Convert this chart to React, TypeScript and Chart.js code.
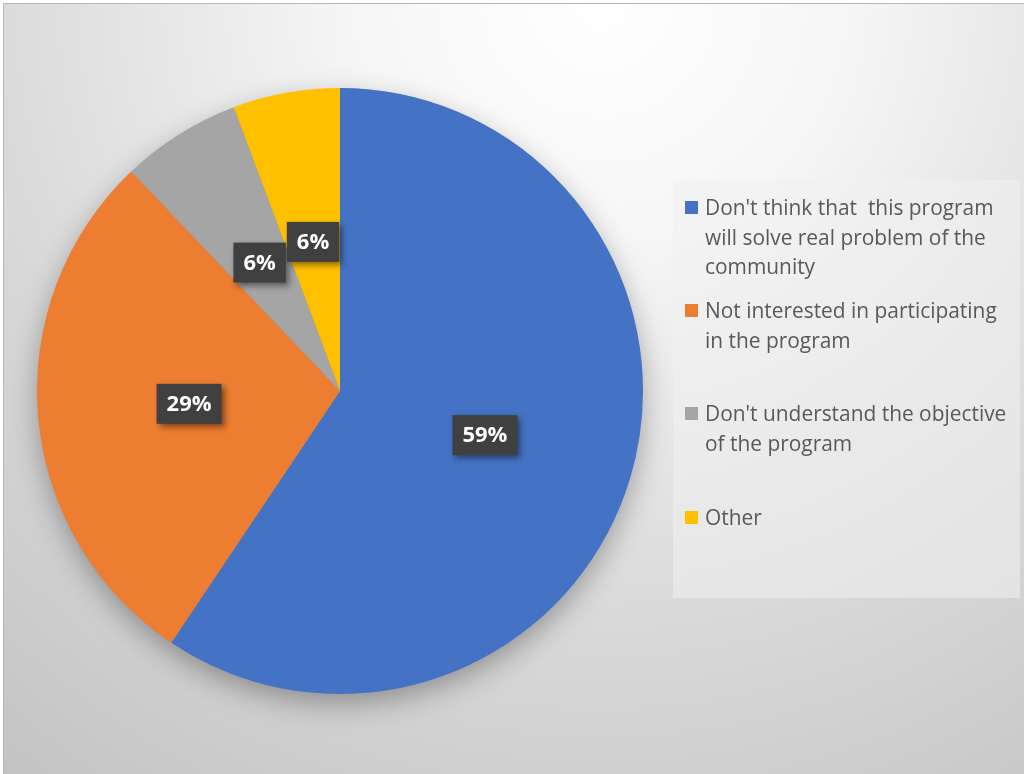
import React, { useEffect, useRef } from "react";
import { Chart, registerables } from "chart.js";

Chart.register(...registerables);

const categories: string[] = [
  "Don't think that  this program will solve real problem of the community",
  "Not interested in participating in the program",
  "Don't understand the objective of the program",
  "Other",
];
const legendLines: string[][] = [
  ["Don't think that  this program", "will solve real problem of the", "community"],
  ["Not interested in participating", "in the program"],
  ["Don't understand the objective", "of the program"],
  ["Other"],
];
const values: number[] = [59.4, 28.5, 6.4, 5.7];
const valueLabels: string[] = ["59%", "29%", "6%", "6%"];
const colors: string[] = ["#4472C4", "#ED7D31", "#A5A5A5", "#FFC000"];

const FONT = "'Open Sans', 'DejaVu Sans', sans-serif";

const bgPlugin = {
  id: "bgPlugin",
  beforeDraw(chart: any) {
    const ctx = chart.ctx as CanvasRenderingContext2D;
    const w = chart.width;
    const h = chart.height;
    ctx.save();
    ctx.fillStyle = "#ffffff";
    ctx.fillRect(0, 0, w, h);
    const g = ctx.createRadialGradient(600, 0, 0, 600, 0, 980);
    g.addColorStop(0, "#ffffff");
    g.addColorStop(0.25, "#f6f6f6");
    g.addColorStop(0.62, "#dadada");
    g.addColorStop(1, "#c3c3c3");
    ctx.fillStyle = g;
    ctx.fillRect(4, 4, w - 4, h - 4);
    ctx.strokeStyle = "#b8b8b8";
    ctx.lineWidth = 1;
    ctx.beginPath();
    ctx.moveTo(3.5, h);
    ctx.lineTo(3.5, 3.5);
    ctx.lineTo(w, 3.5);
    ctx.stroke();
    // legend box
    ctx.fillStyle = "rgba(240,240,240,0.55)";
    ctx.fillRect(673, 180, 347, 418);
    ctx.restore();
  },
  beforeDatasetsDraw(chart: any) {
    const meta = chart.getDatasetMeta(0);
    const arc = meta.data[0];
    if (!arc) return;
    const ctx = chart.ctx as CanvasRenderingContext2D;
    ctx.save();
    ctx.shadowColor = "rgba(0,0,0,0.35)";
    ctx.shadowBlur = 30;
    ctx.shadowOffsetY = 10;
    ctx.fillStyle = "#888888";
    ctx.beginPath();
    ctx.arc(arc.x, arc.y, arc.outerRadius - 2, 0, Math.PI * 2);
    ctx.fill();
    ctx.restore();
  },
  afterDatasetsDraw(chart: any) {
    const meta = chart.getDatasetMeta(0);
    const ctx = chart.ctx as CanvasRenderingContext2D;
    ctx.save();
    ctx.font = `bold 22px ${FONT}`;
    meta.data.forEach((arc: any, i: number) => {
      const p = arc.tooltipPosition();
      const text = valueLabels[i];
      const tw = ctx.measureText(text).width;
      const bw = tw + 20;
      const bh = 40;
      ctx.save();
      ctx.shadowColor = "rgba(0,0,0,0.45)";
      ctx.shadowBlur = 6;
      ctx.shadowOffsetX = 3;
      ctx.shadowOffsetY = 3;
      ctx.fillStyle = "#404040";
      ctx.fillRect(p.x - bw / 2, p.y - bh / 2, bw, bh);
      ctx.restore();
      ctx.fillStyle = "#ffffff";
      ctx.textAlign = "center";
      ctx.textBaseline = "middle";
      ctx.fillText(text, p.x, p.y + 1);
    });
    ctx.restore();
  },
};

export default function App() {
  const ref = useRef<HTMLCanvasElement | null>(null);
  useEffect(() => {
    if (!ref.current) return;
    const chart = new Chart(ref.current, {
      type: "pie",
      data: {
        labels: categories,
        datasets: [
          {
            data: values,
            backgroundColor: colors,
            borderWidth: 0,
          },
        ],
      },
      options: {
        animation: false,
        responsive: false,
        events: [],
        layout: { padding: { left: 37, right: 381, top: 88, bottom: 80 } },
        plugins: {
          legend: { display: false },
          tooltip: { enabled: false },
        },
      },
      plugins: [bgPlugin],
    });
    return () => chart.destroy();
  }, []);

  const itemTops = [193, 296, 399, 503];
  return (
    <div style={{ position: "absolute", left: 0, top: 0, width: 1024, height: 774, overflow: "hidden" }}>
      <canvas ref={ref} width={1024} height={774} style={{ display: "block" }} />
      {legendLines.map((lines, i) => (
        <div
          key={i}
          style={{
            position: "absolute",
            left: 685,
            top: itemTops[i],
            display: "flex",
            alignItems: "flex-start",
          }}
        >
          <div style={{ width: 13, height: 13, background: colors[i], marginTop: 8, marginRight: 7 }} />
          <div
            style={{
              fontFamily: FONT,
              fontSize: 20.9,
              lineHeight: "29.5px",
              color: "#595959",
              whiteSpace: "pre",
            }}
          >
            {lines.map((l, j) => (
              <div key={j}>{l}</div>
            ))}
          </div>
        </div>
      ))}
    </div>
  );
}
